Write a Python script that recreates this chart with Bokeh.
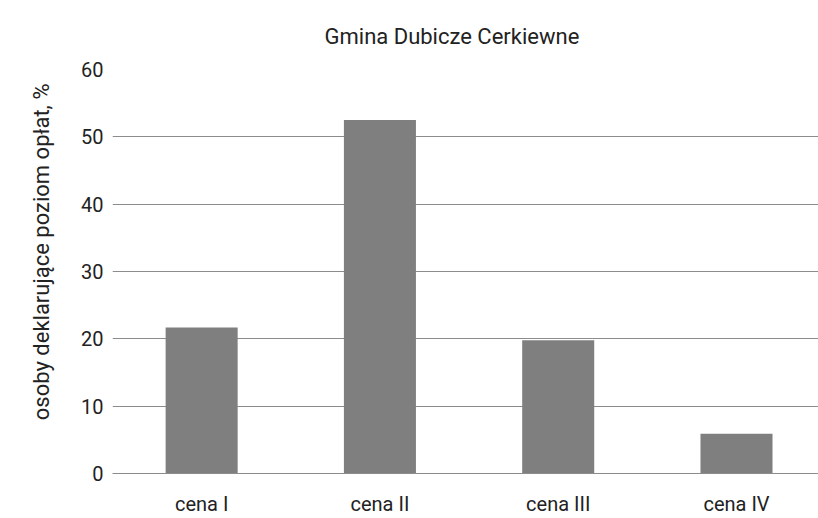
from bokeh.plotting import figure
from bokeh.models import Range1d, FixedTicker, Title
from bokeh.embed import file_html
from bokeh.resources import INLINE

categories = ["cena I", "cena II", "cena III", "cena IV"]
values = [21.7, 52.5, 19.8, 5.9]
y_ticks = [0, 10, 20, 30, 40, 50, 60]
title_text = "Gmina Dubicze Cerkiewne"
y_label = "osoby deklarujące poziom opłat, %"

FONT = "Roboto"
TXT = "#222222"
GRID = "#8c8c8c"

xs = [i + 0.5 for i in range(len(categories))]

p = figure(width=818, height=518, output_backend="svg", toolbar_location=None,
           x_range=Range1d(0, 3.96), y_range=Range1d(0, 60),
           min_border_left=112, min_border_right=0, min_border_top=69, min_border_bottom=43)
p.title = Title(text=title_text, align="left", text_font=FONT,
                text_font_size="22px", text_font_style="normal", text_color=TXT,
                offset=212, standoff=41)

p.add_layout(Title(text=y_label, align="right", text_font=FONT,
                   text_font_size="22px", text_font_style="normal", text_color=TXT,
                   offset=14, standoff=50), "left")

p.vbar(x=xs, top=values, width=0.404, bottom=0, color="#7f7f7f", line_color=None)

p.outline_line_color = None
p.xgrid.grid_line_color = None
p.ygrid.grid_line_color = GRID
p.ygrid.ticker = FixedTicker(ticks=y_ticks)

p.yaxis.ticker = FixedTicker(ticks=y_ticks)
p.yaxis.axis_line_color = None
p.yaxis.major_tick_line_color = None
p.yaxis.minor_tick_line_color = None
p.yaxis.major_tick_out = 0
p.yaxis.major_tick_in = 0
p.yaxis.major_label_text_font = FONT
p.yaxis.major_label_text_font_size = "20px"
p.yaxis.major_label_text_color = TXT
p.yaxis.major_label_standoff = 9

p.xaxis.ticker = FixedTicker(ticks=xs)
p.xaxis.major_label_overrides = {x: c for x, c in zip(xs, categories)}
p.xaxis.axis_line_color = GRID
p.xaxis.major_tick_line_color = None
p.xaxis.minor_tick_line_color = None
p.xaxis.major_tick_out = 0
p.xaxis.major_tick_in = 0
p.xaxis.major_label_text_font = FONT
p.xaxis.major_label_text_font_size = "20px"
p.xaxis.major_label_text_color = TXT
p.xaxis.major_label_standoff = 18

open("out.html", "w").write(file_html(p, INLINE))
